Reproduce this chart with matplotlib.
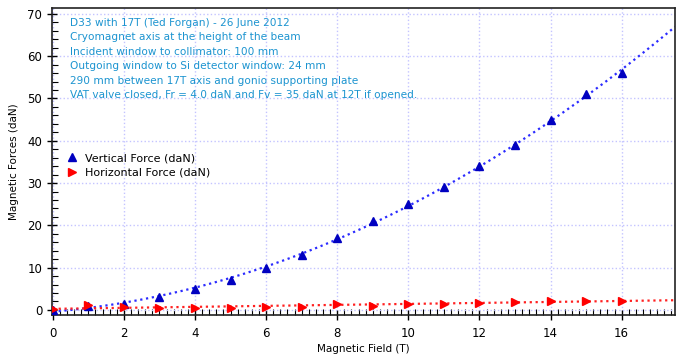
import numpy as np
import matplotlib.pyplot as plt
from matplotlib.ticker import MultipleLocator

# Magnetic field (T)
field = [0, 1, 2, 3, 4, 5, 6, 7, 8, 9, 10, 11, 12, 13, 14, 15, 16]
# Measured forces (daN)
vertical = [0.0, 1.0, 1.3, 3.0, 5.0, 7.0, 10.0, 13.0, 17.0, 21.0, 25.0, 29.0, 34.0, 39.0, 45.0, 51.0, 56.0]
horizontal = [0.2, 1.2, 0.7, 0.5, 0.5, 0.4, 0.7, 0.7, 1.5, 1.0, 1.3, 1.5, 1.7, 1.9, 2.0, 2.2, 2.2]

notes = [
    "D33 with 17T (Ted Forgan) - 26 June 2012",
    "Cryomagnet axis at the height of the beam",
    "Incident window to collimator: 100 mm",
    "Outgoing window to Si detector window: 24 mm",
    "290 mm between 17T axis and gonio supporting plate",
    "VAT valve closed, Fr = 4.0 daN and Fv = 35 daN at 12T if opened.",
]

fig = plt.figure(figsize=(7, 3.55), dpi=100)
ax = fig.add_axes([0.0743, 0.1127, 0.890, 0.8648])

# trend lines (polynomial fits of the measurements)
xfit = np.linspace(0, 17.5, 300)
pv = np.polyfit(field, vertical, 2)
yv = np.polyval(pv, xfit)
ph = np.polyfit(field, horizontal, 1)
yh = np.polyval(ph, xfit)
ax.plot(xfit, yv, ":", color="#2b2bff", lw=1.6, zorder=2)
ax.plot(xfit, yh, ":", color="#ff2020", lw=1.6, zorder=2)

ax.plot(field, vertical, "^", color="#0000c0", ms=6, ls="none",
        label="Vertical Force (daN)", zorder=3)
ax.plot(field, horizontal, ">", color="#ff0000", ms=6, ls="none",
        label="Horizontal Force (daN)", zorder=3)

ax.set_xlim(-0.02, 17.5)
ax.set_ylim(-1.2, 71.4)
ax.xaxis.set_major_locator(MultipleLocator(2))
ax.xaxis.set_minor_locator(MultipleLocator(0.2))
ax.yaxis.set_major_locator(MultipleLocator(10))
ax.yaxis.set_minor_locator(MultipleLocator(2))
ax.tick_params(which="major", direction="inout", length=7, width=1, labelsize=8.5)
ax.tick_params(which="minor", direction="in", length=4, width=0.8)
ax.tick_params(top=False, right=False)
ax.tick_params(axis="x", which="major", pad=5)
ax.grid(True, which="major", color="#c4c4ff", ls=":", lw=1)

for s in ax.spines.values():
    s.set_linewidth(1.2)
    s.set_color("#222222")

ax.set_xlabel("Magnetic Field (T)", fontsize=7.5, labelpad=3)
ax.set_ylabel("Magnetic Forces (daN)", fontsize=7.5, labelpad=6)

ax.text(0.029, 0.968, "\n".join(notes), transform=ax.transAxes, va="top", ha="left",
        fontsize=7.6, color="#1c94d0", linespacing=1.56)

leg = ax.legend(loc="upper left", bbox_to_anchor=(0.005, 0.56), frameon=False,
                fontsize=8.0, handletextpad=0.6, labelspacing=0.42, handlelength=1.2)

fig.savefig("out.png", dpi=100)
